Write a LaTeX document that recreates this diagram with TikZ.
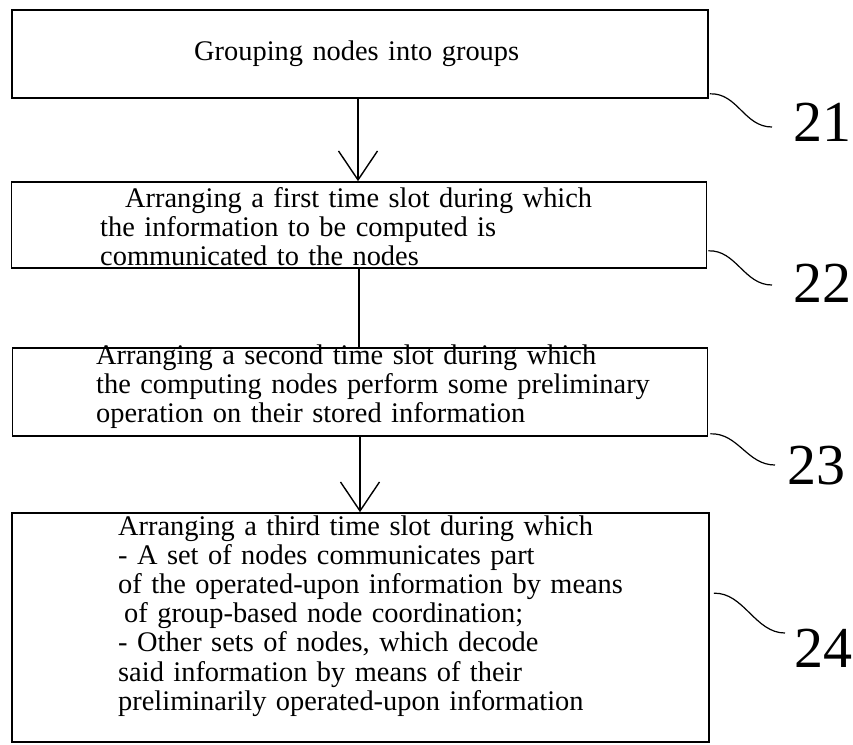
\documentclass[tikz,border=0pt]{standalone}
\usepackage{fontspec}
\setmainfont{Liberation Serif}
\usetikzlibrary{arrows.meta,calc}

\tikzset{
  stepbox/.style={draw, line width=1.6pt, rectangle, inner sep=0pt},
  boxtext/.style={inner sep=0pt, anchor=base west, align=left, text width=640pt,
    font=\fontsize{28.4}{29.2}\selectfont},
  refnum/.style={inner sep=0pt, font=\fontsize{58}{60}\selectfont},
  flow/.style={line width=1.4pt, -{Straight Barb[length=29pt,width=39pt,line width=1.4pt]}},
  plainflow/.style={line width=1.4pt},
  leader/.style={line width=1.2pt}
}

\begin{document}
\begin{tikzpicture}[x=1pt,y=-1pt]
  \useasboundingbox (0,0) rectangle (853,744);

  % process steps
  \node[stepbox, minimum width=696pt, minimum height=88pt]  (b1) at (360,54)    {};
  \node[stepbox, minimum width=695pt, minimum height=86pt]  (b2) at (359,225)   {};
  \node[stepbox, minimum width=695pt, minimum height=88pt]  (b3) at (360,392)   {};
  \node[stepbox, minimum width=697pt, minimum height=229pt] (b4) at (360.5,627.5) {};

  % step texts
  \node[boxtext] (t1) at (194,60) {Grouping nodes into groups};
  \node[boxtext] (t2) at (100,207) {\hspace*{25pt}Arranging a first time slot during which\\
    the information to be computed is\\
    communicated to the nodes};
  \node[boxtext] (t3) at (96,364) {Arranging a second time slot during which\\
    the computing nodes perform some preliminary\\
    operation on their stored information};
  \node[boxtext] (t4) at (118,535) {Arranging a third time slot during which\\
    - A set of nodes communicates part\\
    of the operated-upon information by means\\
    \hspace*{6pt}of group-based node coordination;\\
    - Other sets of nodes, which decode\\
    said information by means of their\\
    preliminarily operated-upon information};

  % flow between steps
  \draw[flow] (b1.south -| 358,0) -- (b2.north -| 358,0);
  \draw[plainflow] (b2.south -| 359,0) -- (b3.north -| 359,0);
  \draw[flow] (b3.south -| 360,0) -- (b4.north -| 360,0);

  % reference numerals
  \node[refnum] (n21) at (822,122) {21};
  \node[refnum] (n22) at (822,283) {22};
  \node[refnum] (n23) at (816,466) {23};
  \node[refnum] (n24) at (823,648) {24};

  \coordinate (e21) at (772,127);
  \coordinate (e22) at (772,285);
  \coordinate (e23) at (775,465);
  \coordinate (e24) at (785,633);

  % leader lines
  \draw[leader] ($(b1.south east)+(1,-5)$) .. controls +(28,-1) and +(-28,0) .. (e21);
  \draw[leader] ($(b2.south east)+(1,-18)$) .. controls +(28,-1) and +(-28,0) .. (e22);
  \draw[leader] ($(b3.south east)+(2,-3)$) .. controls +(28,-1) and +(-28,0) .. (e23);
  \draw[leader] ($(b4.north east)+(4,81)$) .. controls +(30,-1) and +(-30,0) .. (e24);
\end{tikzpicture}
\end{document}
